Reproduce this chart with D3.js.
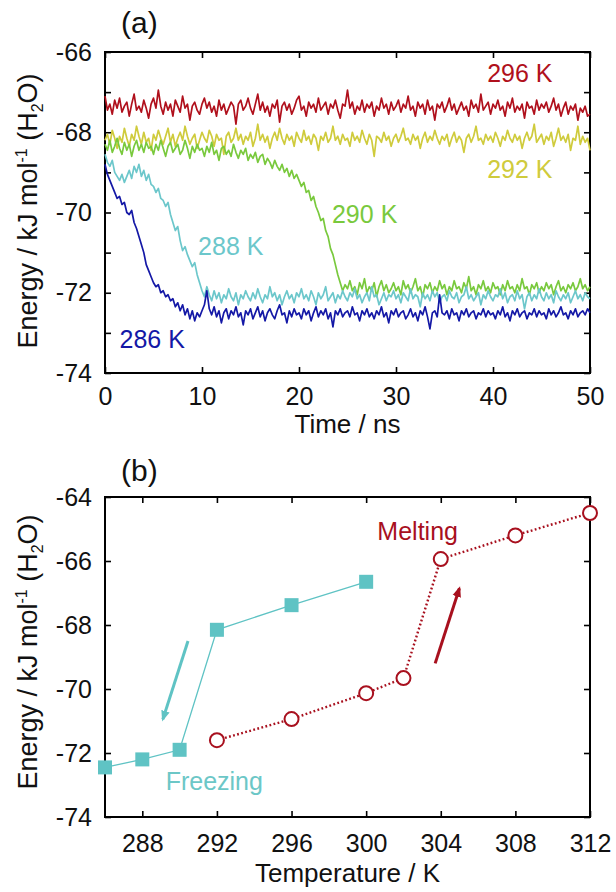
<!DOCTYPE html>
<html>
<head>
<meta charset="utf-8">
<script src="https://d3js.org/d3.v7.min.js"></script>
<style>
  body { margin: 0; background: white; }
  text { font-family: "Liberation Sans", Arial, Helvetica, sans-serif; }
</style>
</head>
<body>
<svg id="chart" width="616" height="892"></svg>
<script>
// ---- panel (a): energy vs time, one trace per temperature (sampled every 0.25 ns)
const timeStep = 0.25;
const tempsA = ["296 K", "292 K", "290 K", "288 K", "286 K"];
const colorsA = ["#b0101c", "#cfcb3c", "#79c93d", "#6cc7cb", "#1418a6"];

const e296 = [-67.10,-67.45,-67.30,-67.55,-67.20,-67.40,-67.15,-67.50,-67.35,-67.25,-67.60,-67.30,-67.05,-67.45,-67.35,-67.50,-67.20,-67.40,-67.65,-67.30,
-67.15,-67.40,-66.95,-67.35,-67.55,-67.25,-67.45,-67.30,-67.60,-67.20,-67.35,-67.50,-67.10,-67.40,-67.30,-67.70,-67.35,-67.25,-67.45,-67.55,
-67.30,-67.15,-67.40,-67.25,-67.50,-67.35,-67.60,-67.20,-67.45,-67.30,-67.55,-67.40,-67.25,-67.35,-67.80,-67.30,-67.20,-67.45,-67.35,-67.15,
-67.40,-67.55,-67.30,-67.05,-67.45,-67.25,-67.50,-67.35,-67.60,-67.30,-67.40,-67.20,-67.75,-67.35,-67.25,-67.45,-67.30,-67.55,-67.40,-67.20,
-67.10,-67.45,-67.35,-67.60,-67.25,-67.40,-67.30,-67.50,-67.15,-67.45,-67.35,-67.25,-67.55,-67.30,-67.40,-67.20,-67.45,-67.65,-67.30,-67.35,
-66.95,-67.40,-67.25,-67.55,-67.35,-67.45,-67.20,-67.50,-67.30,-67.40,-67.25,-67.60,-67.35,-67.45,-67.15,-67.40,-67.30,-67.55,-67.25,-67.45,
-67.35,-67.20,-67.50,-67.30,-67.40,-67.10,-67.45,-67.35,-67.60,-67.25,-67.40,-67.30,-67.55,-67.20,-67.45,-67.35,-67.70,-67.30,-67.40,-67.25,
-67.50,-67.35,-67.15,-67.45,-67.30,-67.55,-67.40,-67.25,-67.45,-67.35,-67.60,-67.20,-67.40,-67.30,-67.50,-67.05,-67.45,-67.35,-67.25,-67.55,
-67.30,-67.40,-67.20,-67.45,-67.35,-67.60,-67.25,-67.40,-67.15,-67.50,-67.35,-67.45,-67.30,-67.65,-67.25,-67.40,-67.35,-67.55,-67.20,-67.45,
-67.30,-67.40,-67.25,-67.50,-67.35,-67.15,-67.45,-67.30,-67.60,-67.40,-67.25,-67.55,-67.35,-67.45,-67.30,-67.70,-67.40,-67.50,-67.35,-67.60,
-67.55];

const e292 = [-68.20,-68.05,-68.30,-67.95,-68.15,-68.40,-68.10,-68.25,-67.90,-68.15,-68.35,-68.05,-68.20,-67.85,-68.10,-68.30,-68.00,-68.25,-68.15,-68.45,
-68.05,-68.20,-67.95,-68.15,-68.30,-68.10,-67.90,-68.25,-68.05,-68.35,-68.15,-68.00,-68.20,-67.85,-68.10,-68.30,-68.15,-68.05,-68.40,-68.20,
-68.00,-68.15,-68.25,-67.95,-68.10,-68.35,-68.05,-68.20,-68.15,-68.55,-68.10,-68.00,-68.25,-68.15,-67.90,-68.20,-68.05,-68.30,-68.10,-68.20,
-68.00,-68.35,-68.15,-67.80,-68.20,-68.05,-68.25,-68.10,-68.40,-68.15,-68.00,-68.20,-67.90,-68.15,-68.30,-68.05,-68.20,-68.10,-68.35,-68.00,
-68.15,-68.25,-67.95,-68.20,-68.10,-68.30,-68.05,-68.15,-68.45,-68.10,-68.20,-68.00,-68.25,-68.15,-67.85,-68.20,-68.10,-68.30,-68.05,-68.20,
-68.15,-68.35,-68.00,-68.20,-68.10,-68.25,-67.95,-68.15,-68.30,-68.05,-68.20,-68.60,-68.10,-68.15,-68.25,-68.00,-68.20,-68.10,-68.35,-68.15,
-68.05,-68.25,-68.10,-67.90,-68.20,-68.15,-68.30,-68.05,-68.20,-68.10,-68.40,-68.15,-68.00,-68.25,-68.10,-68.20,-67.95,-68.15,-68.30,-68.10,
-68.20,-68.05,-68.35,-68.15,-68.00,-68.25,-68.10,-68.20,-68.50,-68.15,-68.05,-68.25,-68.10,-67.85,-68.20,-68.15,-68.30,-68.05,-68.20,-68.10,
-68.25,-68.00,-68.15,-68.35,-68.10,-68.20,-67.95,-68.15,-68.25,-68.05,-68.20,-68.10,-68.40,-68.15,-68.00,-68.20,-68.10,-67.80,-68.25,-68.15,
-68.05,-68.30,-68.10,-68.20,-68.00,-68.35,-68.15,-67.90,-68.20,-68.10,-68.25,-68.05,-68.45,-68.15,-68.20,-67.85,-68.30,-68.10,-68.25,-68.15,
-68.45];

const e290 = [-68.30,-68.45,-68.20,-68.50,-68.35,-68.15,-68.40,-68.55,-68.25,-68.45,-68.30,-68.60,-68.35,-68.20,-68.45,-68.30,-68.50,-68.25,-68.40,-68.35,
-68.55,-68.30,-68.45,-68.20,-68.40,-68.60,-68.35,-68.25,-68.50,-68.40,-68.30,-68.55,-68.45,-68.20,-68.40,-68.65,-68.35,-68.50,-68.30,-68.45,
-68.40,-68.60,-68.35,-68.50,-68.25,-68.55,-68.45,-68.70,-68.40,-68.35,-68.55,-68.45,-68.60,-68.30,-68.50,-68.65,-68.45,-68.55,-68.40,-68.70,
-68.55,-68.65,-68.50,-68.75,-68.60,-68.55,-68.80,-68.65,-68.75,-68.90,-68.70,-68.85,-68.95,-68.80,-69.00,-68.90,-69.10,-68.95,-69.15,-69.05,
-69.20,-69.35,-69.25,-69.50,-69.45,-69.70,-69.60,-69.85,-70.00,-70.20,-70.15,-70.45,-70.60,-70.90,-71.05,-71.30,-71.55,-71.75,-71.95,-71.80,
-71.90,-71.70,-71.95,-71.85,-72.05,-71.75,-71.90,-71.65,-72.00,-71.85,-71.95,-71.75,-72.10,-71.85,-71.70,-71.95,-71.80,-72.00,-71.90,-71.75,
-71.95,-71.85,-72.05,-71.70,-71.90,-71.80,-72.00,-71.85,-71.65,-71.95,-71.85,-72.10,-71.80,-71.90,-71.75,-72.00,-71.85,-71.95,-71.70,-71.90,
-71.80,-72.05,-71.85,-71.95,-71.70,-71.90,-71.85,-72.00,-71.75,-71.90,-71.60,-71.95,-71.85,-72.05,-71.80,-71.90,-71.70,-71.95,-71.85,-72.00,
-71.75,-71.90,-71.85,-72.05,-71.80,-71.95,-71.70,-71.90,-71.85,-72.00,-71.80,-71.95,-71.65,-71.90,-71.85,-72.05,-71.80,-71.90,-71.75,-72.00,
-71.85,-71.95,-71.75,-71.90,-71.80,-72.05,-71.85,-71.70,-71.95,-71.85,-72.00,-71.80,-71.90,-71.75,-71.95,-71.85,-71.65,-71.90,-71.80,-71.95,
-71.85];

const e288 = [-68.55,-68.75,-68.85,-68.70,-69.00,-69.10,-69.20,-69.05,-69.25,-69.10,-68.95,-69.15,-68.85,-69.00,-68.80,-69.10,-68.95,-69.20,-69.05,-69.30,
-69.35,-69.50,-69.40,-69.65,-69.70,-69.85,-69.75,-70.05,-70.25,-70.45,-70.35,-70.70,-70.95,-70.85,-71.05,-71.20,-71.35,-71.25,-71.55,-71.75,
-71.95,-72.10,-71.85,-72.05,-72.20,-71.95,-72.15,-72.00,-72.25,-72.05,-72.15,-71.90,-72.10,-72.20,-72.00,-72.30,-72.05,-72.15,-71.95,-72.10,
-72.20,-72.00,-72.15,-71.90,-72.10,-72.25,-72.05,-72.15,-71.85,-72.10,-72.00,-72.20,-72.05,-72.30,-72.10,-71.95,-72.15,-72.05,-72.25,-72.00,
-72.10,-71.90,-72.15,-72.05,-72.20,-71.95,-72.10,-72.30,-72.00,-72.15,-72.05,-71.85,-72.20,-72.10,-72.00,-72.25,-72.05,-72.15,-71.95,-72.10,
-72.20,-72.00,-72.10,-71.90,-72.15,-72.05,-72.25,-72.10,-72.00,-72.20,-71.85,-72.10,-72.05,-72.30,-72.15,-72.00,-72.20,-72.05,-72.10,-71.95,
-72.15,-72.05,-72.25,-72.00,-72.10,-72.20,-71.90,-72.15,-72.05,-72.10,-72.35,-72.00,-72.15,-72.05,-72.20,-71.95,-72.10,-72.00,-72.25,-72.10,
-72.05,-72.20,-71.95,-72.10,-72.15,-72.00,-72.25,-72.10,-72.05,-71.85,-72.15,-72.05,-72.20,-72.10,-72.00,-72.30,-72.05,-72.15,-71.95,-72.10,
-72.20,-72.05,-72.10,-71.90,-72.15,-72.00,-72.25,-72.10,-72.05,-72.20,-71.95,-72.15,-72.05,-72.40,-72.10,-72.00,-72.20,-72.05,-72.15,-71.90,
-72.10,-72.20,-72.00,-72.15,-72.05,-72.25,-71.95,-72.10,-72.20,-72.05,-72.15,-72.00,-72.25,-72.10,-71.95,-72.15,-72.05,-72.20,-72.00,-72.10,
-72.15];

const e286 = [-68.80,-69.05,-69.20,-69.35,-69.50,-69.65,-69.60,-69.80,-69.75,-70.00,-70.05,-69.95,-70.25,-70.40,-70.60,-70.80,-71.00,-71.30,-71.45,-71.60,
-71.75,-71.85,-71.80,-72.00,-71.95,-72.10,-72.05,-72.20,-72.15,-72.35,-72.25,-72.45,-72.30,-72.55,-72.40,-72.65,-72.45,-72.70,-72.50,-72.60,
-72.45,-72.30,-71.95,-72.40,-72.55,-72.35,-72.60,-72.45,-72.75,-72.50,-72.40,-72.65,-72.45,-72.55,-72.35,-72.60,-72.50,-72.80,-72.45,-72.55,
-72.40,-72.65,-72.50,-72.35,-72.60,-72.45,-72.70,-72.50,-72.40,-72.55,-72.65,-72.45,-72.30,-72.55,-72.50,-72.75,-72.45,-72.60,-72.40,-72.55,
-72.50,-72.65,-72.40,-72.55,-72.45,-72.70,-72.50,-72.35,-72.60,-72.45,-72.55,-72.40,-72.65,-72.50,-72.85,-72.45,-72.55,-72.40,-72.60,-72.50,
-72.45,-72.60,-72.35,-72.55,-72.50,-72.70,-72.45,-72.55,-72.40,-72.60,-72.50,-72.65,-72.45,-72.55,-72.35,-72.60,-72.50,-72.75,-72.45,-72.55,
-72.40,-72.60,-72.50,-72.45,-72.65,-72.55,-72.40,-72.60,-72.50,-72.70,-72.45,-72.55,-72.35,-72.60,-72.90,-72.50,-72.45,-72.60,-72.05,-72.50,
-72.55,-72.45,-72.65,-72.40,-72.55,-72.50,-72.70,-72.45,-72.55,-72.40,-72.60,-72.50,-72.45,-72.65,-72.50,-72.55,-72.40,-72.60,-72.45,-72.55,
-72.50,-72.65,-72.45,-72.55,-72.35,-72.60,-72.50,-72.70,-72.45,-72.55,-72.40,-72.60,-72.50,-72.45,-72.65,-72.50,-72.55,-72.40,-72.60,-72.45,
-72.55,-72.50,-72.65,-72.40,-72.55,-72.45,-72.60,-72.50,-72.35,-72.55,-72.50,-72.65,-72.45,-72.55,-72.40,-72.60,-72.50,-72.45,-72.55,-72.40,
-72.50];

const seriesA = [e296, e292, e290, e288, e286];
// label anchor for each trace, in data units (time, energy)
const labelPosA = [[39.4, -66.75], [39.4, -69.15], [23.4, -70.27], [9.6, -71.07], [1.5, -73.37]];

// ---- panel (b): energy vs temperature
const freezeT = [286, 288, 290, 292, 296, 300];
const freezeE = [-72.45, -72.2, -71.9, -68.15, -67.38, -66.65];
const meltT = [292, 296, 300, 302, 304, 308, 312];
const meltE = [-71.6, -70.94, -70.13, -69.66, -65.94, -65.2, -64.5];
const teal = "#5fc3c4";
const darkRed = "#a8101e";

const svg = d3.select("#chart");

// shared frame geometry
const left = 105, right = 590;
const topA = 52, botA = 373;
const topB = 497, botB = 817;

const xA = d3.scaleLinear().domain([0, 50]).range([left, right]);
const yA = d3.scaleLinear().domain([-74, -66]).range([botA, topA]);
const xB = d3.scaleLinear().domain([286, 312]).range([left, right]);
const yB = d3.scaleLinear().domain([-74, -64]).range([botB, topB]);

const plain = d => String(d);   // keep the ascii hyphen like the original

function styleAxis(g, fs) {
  g.select(".domain").remove();
  g.selectAll(".tick line").attr("stroke", "#000").attr("stroke-width", 1.6);
  g.selectAll(".tick text").attr("font-size", fs).attr("fill", "#111")
    .style("font-family", '"Liberation Sans", Arial, sans-serif');
}

function drawFrame(x, y, xTicks, yTicksLab, yTicksAll, yRightTicks, padX) {
  svg.append("g").attr("transform", `translate(0,${y.range()[0]})`)
    .call(d3.axisBottom(x).tickValues(xTicks).tickSize(-6).tickSizeOuter(0).tickPadding(padX)
      .tickFormat(plain))
    .call(g => styleAxis(g, 25));
  svg.append("g").attr("transform", `translate(0,${y.range()[1]})`)
    .call(d3.axisTop(x).tickValues(xTicks).tickSize(-6).tickSizeOuter(0).tickFormat(""))
    .call(g => styleAxis(g, 25));
  svg.append("g").attr("transform", `translate(${left},0)`)
    .call(d3.axisLeft(y).tickValues(yTicksAll).tickSize(-6).tickSizeOuter(0).tickFormat(""))
    .call(g => styleAxis(g, 25));
  svg.append("g").attr("transform", `translate(${left},0)`)
    .call(d3.axisLeft(y).tickValues(yTicksLab).tickSize(0).tickSizeOuter(0).tickPadding(13)
      .tickFormat(plain))
    .call(g => styleAxis(g, 25));
  svg.append("g").attr("transform", `translate(${right},0)`)
    .call(d3.axisRight(y).tickValues(yRightTicks).tickSize(-6).tickSizeOuter(0).tickFormat(""))
    .call(g => styleAxis(g, 25));
  svg.append("rect")
    .attr("x", x.range()[0]).attr("y", y.range()[1])
    .attr("width", x.range()[1] - x.range()[0]).attr("height", y.range()[0] - y.range()[1])
    .attr("fill", "none").attr("stroke", "#000").attr("stroke-width", 2);
}

function yLabel(cx, cy) {
  const t = svg.append("text")
    .attr("transform", `translate(${cx},${cy}) rotate(-90)`)
    .attr("text-anchor", "middle").attr("font-size", 27).attr("fill", "#111");
  t.append("tspan").text("Energy / kJ mol");
  t.append("tspan").attr("dy", -10).attr("font-size", 16).text("-1");
  t.append("tspan").attr("dy", 10).text(" (H");
  t.append("tspan").attr("dy", 6).attr("font-size", 16).text("2");
  t.append("tspan").attr("dy", -6).text("O)");
}

// ================= panel (a)
drawFrame(xA, yA, [0, 10, 20, 30, 40, 50], [-74, -72, -70, -68, -66],
  d3.range(-74, -65, 1), d3.range(-74, -65, 1), 14);

const lineA = d3.line()
  .x((d, i) => xA(i * timeStep))
  .y(d => yA(d));

svg.append("g").selectAll("path")
  .data(seriesA)
  .join("path")
  .attr("d", lineA)
  .attr("fill", "none")
  .attr("stroke", (d, i) => colorsA[i])
  .attr("stroke-width", 1.7)
  .attr("stroke-linejoin", "round");

svg.append("g").selectAll("text")
  .data(tempsA)
  .join("text")
  .attr("x", (d, i) => xA(labelPosA[i][0]))
  .attr("y", (d, i) => yA(labelPosA[i][1]))
  .attr("font-size", 25)
  .attr("fill", (d, i) => colorsA[i])
  .text(d => d);

svg.append("text").attr("x", 121).attr("y", 33).attr("font-size", 30).attr("fill", "#111").text("(a)");
svg.append("text").attr("x", xA(25)).attr("y", 433).attr("text-anchor", "middle")
  .attr("font-size", 26).attr("fill", "#111").text("Time / ns");
yLabel(37, 211);

// ================= panel (b)
drawFrame(xB, yB, [288, 292, 296, 300, 304, 308, 312], [-74, -72, -70, -68, -66, -64],
  d3.range(-74, -63, 2), d3.range(-74, -63, 2), 17);

const freezeData = freezeT.map((t, i) => ({ t, e: freezeE[i] }));
const meltData = meltT.map((t, i) => ({ t, e: meltE[i] }));
const lineB = d3.line().x(d => xB(d.t)).y(d => yB(d.e));

svg.append("path").datum(freezeData).attr("d", lineB)
  .attr("fill", "none").attr("stroke", teal).attr("stroke-width", 1.3);
svg.append("path").datum(meltData).attr("d", lineB)
  .attr("fill", "none").attr("stroke", darkRed).attr("stroke-width", 2.4)
  .attr("stroke-dasharray", "1.8,2.4");

const sq = 14;
svg.append("g").selectAll("rect").data(freezeData).join("rect")
  .attr("x", d => xB(d.t) - sq / 2).attr("y", d => yB(d.e) - sq / 2)
  .attr("width", sq).attr("height", sq).attr("fill", teal);

svg.append("g").selectAll("circle").data(meltData).join("circle")
  .attr("cx", d => xB(d.t)).attr("cy", d => yB(d.e)).attr("r", 7)
  .attr("fill", "white").attr("stroke", darkRed).attr("stroke-width", 2);

// direction arrows
const defs = svg.append("defs");
[["headTeal", teal], ["headRed", darkRed]].forEach(([id, c]) => {
  defs.append("marker").attr("id", id)
    .attr("viewBox", "0 0 10 10").attr("refX", 8).attr("refY", 5)
    .attr("markerWidth", 3.6).attr("markerHeight", 3.6).attr("orient", "auto")
    .append("path").attr("d", "M0,1 L10,5 L0,9 Z").attr("fill", c);
});
const arrows = [
  { from: [290.45, -68.5], to: [289.1, -70.95], color: teal, head: "headTeal" },
  { from: [303.7, -69.2], to: [305.0, -66.85], color: darkRed, head: "headRed" }
];
svg.append("g").selectAll("line").data(arrows).join("line")
  .attr("x1", d => xB(d.from[0])).attr("y1", d => yB(d.from[1]))
  .attr("x2", d => xB(d.to[0])).attr("y2", d => yB(d.to[1]))
  .attr("stroke", d => d.color).attr("stroke-width", 3)
  .attr("marker-end", d => `url(#${d.head})`);

svg.append("text").attr("x", xB(300.6)).attr("y", yB(-65.35))
  .attr("font-size", 25).attr("fill", darkRed).text("Melting");
svg.append("text").attr("x", xB(289.25)).attr("y", yB(-73.15))
  .attr("font-size", 25).attr("fill", "#6cc7c7").text("Freezing");

svg.append("text").attr("x", 121).attr("y", 481).attr("font-size", 30).attr("fill", "#111").text("(b)");
svg.append("text").attr("x", xB(299)).attr("y", 882).attr("text-anchor", "middle")
  .attr("font-size", 26).attr("fill", "#111").text("Temperature / K");
yLabel(37, 652);
</script>
</body>
</html>
